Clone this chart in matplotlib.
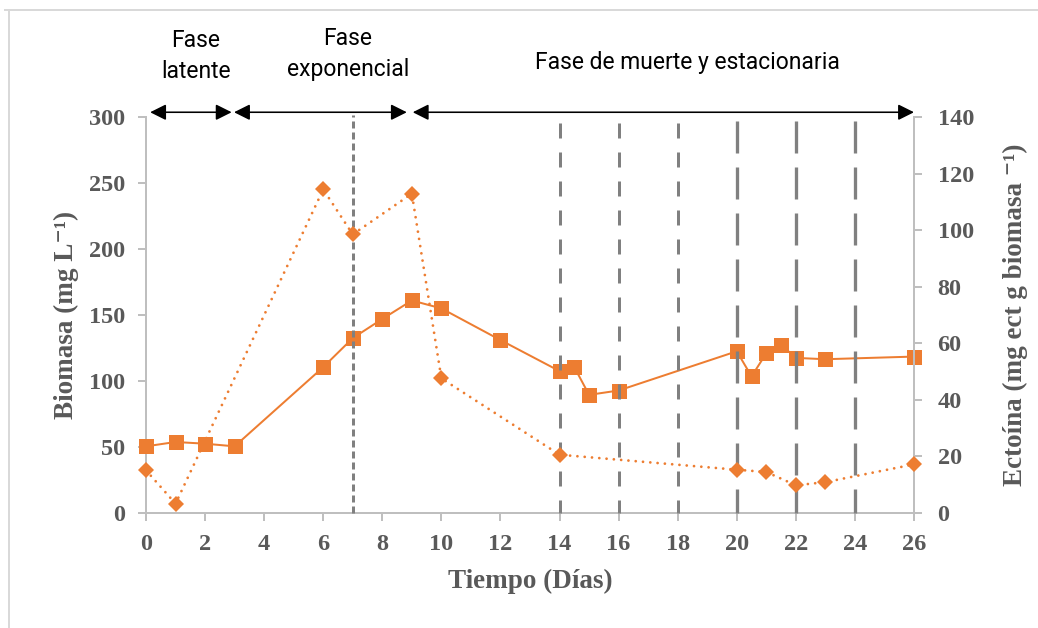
import matplotlib
matplotlib.use("Agg")
import matplotlib.pyplot as plt
from matplotlib.lines import Line2D
from matplotlib.patches import FancyArrowPatch

plt.rcParams['lines.scale_dashes'] = False

# Biomass (left axis), square markers, solid line
dias_biomasa = [0, 1, 2, 3, 6, 7, 8, 9, 10, 12, 14, 14.5, 15, 16, 20, 20.5, 21, 21.5, 22, 23, 26]
biomasa = [50.5, 53.8, 52.5, 50.5, 110.5, 132.5, 147, 161, 155, 131, 107.5, 110.5, 89.5, 92.8,
           122.5, 103.5, 121, 127.5, 117.5, 116.5, 118.5]

# Ectoine (right axis), diamond markers, dotted line
dias_ectoina = [0, 1, 6, 7, 9, 10, 14, 20, 21, 22, 23, 26]
ectoina = [15.1, 3.3, 114.4, 98.5, 112.9, 47.6, 20.6, 15.3, 14.5, 9.8, 10.9, 17.2]

x_ticks = list(range(0, 27, 2))
y_left_ticks = [0, 50, 100, 150, 200, 250, 300]
y_right_ticks = [0, 20, 40, 60, 80, 100, 120, 140]

# Phase bands and their labels
fases = [(0.14, 2.9, "Fase\nlatente"), (2.98, 8.83, "Fase\nexponencial"),
         (9.03, 26.0, "Fase de muerte y estacionaria")]
lineas_cortas = [7]
lineas_medias = [14, 16, 18]
lineas_largas = [20, 22, 24]

ORANGE = "#ED7D31"
GRAY_TXT = "#595959"
GRAY_AX = "#BFBFBF"
GRAY_DASH = "#808080"
W, H = 1038, 628
px = 0.72  # points per pixel at dpi 100

fig = plt.figure(figsize=(W / 100, H / 100), dpi=100)
ax = fig.add_axes([146 / W, 1 - 513 / H, (914 - 146) / W, (513 - 117) / H])
ax2 = ax.twinx()

serif = ["Liberation Serif", "DejaVu Serif"]
sans = ["Roboto", "DejaVu Sans"]

ax.plot(dias_biomasa, biomasa, color=ORANGE, lw=2 * px, marker='s', markersize=15 * px,
        markeredgewidth=0, zorder=3, clip_on=False)
ax2.plot(dias_ectoina, ectoina, color=ORANGE, lw=2.8 * px, linestyle=(0, (0.01, 7.3 * px)),
         dash_capstyle='round', marker='D', markersize=11 * px, markeredgewidth=0,
         zorder=3, clip_on=False)

ax.set_xlim(0, 26)
ax.set_ylim(0, 300)
ax2.set_ylim(0, 140)

# Vertical phase markers
for d in lineas_cortas:
    ax.plot([d, d], [0, 301.5], color=GRAY_DASH, lw=3 * px, linestyle=(0, (7 * px, 4 * px)),
            zorder=5, clip_on=False)
for d in lineas_medias:
    ax.plot([d, d], [295.5, 0], color=GRAY_DASH, lw=3 * px, linestyle=(0, (15 * px, 14 * px)),
            zorder=5, clip_on=False)
for d in lineas_largas:
    ax.plot([d, d], [297, 0], color=GRAY_DASH, lw=3.3 * px, linestyle=(0, (32 * px, 14 * px)),
            zorder=5, clip_on=False)

for a in (ax, ax2):
    a.spines['top'].set_visible(False)
    for s in ('left', 'right', 'bottom'):
        a.spines[s].set_color(GRAY_AX)
        a.spines[s].set_linewidth(2 * px)
    a.tick_params(colors=GRAY_AX, length=6, width=2 * px, labelcolor=GRAY_TXT, labelsize=17.5)
ax.spines['right'].set_visible(False)
ax2.spines['left'].set_visible(False)
ax2.spines['bottom'].set_visible(False)

ax.set_xticks(x_ticks)
ax.set_yticks(y_left_ticks)
ax2.set_yticks(y_right_ticks)
for lab in ax.get_xticklabels() + ax.get_yticklabels() + ax2.get_yticklabels():
    lab.set_family(serif)
    lab.set_fontweight('bold')
ax.tick_params(axis='x', pad=9)
ax.tick_params(axis='y', pad=9)
ax2.tick_params(axis='y', pad=11)

ax.set_xlabel("Tiempo (Días)", family=serif, fontweight='bold', fontsize=19.5, color=GRAY_TXT,
              labelpad=10)
ax.set_ylabel("Biomasa (mg L\u207b\u00b9)", family=serif, fontweight='bold', fontsize=19.5,
              color=GRAY_TXT, labelpad=7)
ax2.set_ylabel("Ectoína (mg ect g biomasa \u207b\u00b9)", family=serif, fontweight='bold',
               fontsize=19.5, color=GRAY_TXT, labelpad=21)

# Phase arrows above the plot
y_arrow = 303.6
for x0, x1, txt in fases:
    arr = FancyArrowPatch((x0, y_arrow), (x1, y_arrow), arrowstyle='<|-|>',
                          mutation_scale=24, color='black', lw=1.6 * px,
                          shrinkA=0, shrinkB=0, clip_on=False, zorder=6)
    ax.add_patch(arr)

fig.text(196 / W, 1 - 56 / H, fases[0][2], ha='center', va='center', family=sans,
         fontsize=16.5, color='black', linespacing=1.4)
fig.text(348 / W, 1 - 54 / H, fases[1][2], ha='center', va='center', family=sans,
         fontsize=16.5, color='black', linespacing=1.4)
fig.text(687 / W, 1 - 62 / H, fases[2][2], ha='center', va='center', family=sans,
         fontsize=16.5, color='black')

# Outer frame edges
fig.add_artist(Line2D([5 / W, 1], [1 - 10 / H, 1 - 10 / H], transform=fig.transFigure,
                      color="#D9D9D9", lw=2 * px))
fig.add_artist(Line2D([9 / W, 9 / W], [0, 1 - 10 / H], transform=fig.transFigure,
                      color="#D9D9D9", lw=2 * px))

fig.savefig("out.png", dpi=100)
